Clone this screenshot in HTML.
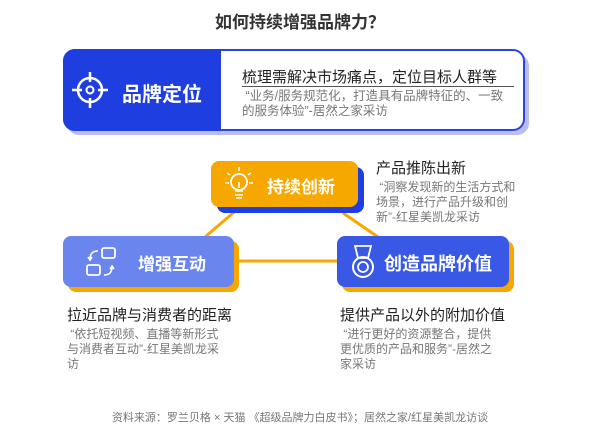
<!DOCTYPE html>
<html><head><meta charset="utf-8"><style>
body{margin:0;width:600px;height:430px;background:#fff;position:relative;overflow:hidden;font-family:"Liberation Sans","Noto Sans CJK SC",sans-serif;}
.a{position:absolute;white-space:nowrap;}
.q{color:#777;font-size:12px;line-height:15px;white-space:normal;}
.h{color:#222;font-size:15px;}
.box{position:absolute;border-radius:8px;color:#fff;font-weight:bold;font-size:17px;}
</style></head><body>
<div class="a" style="left:0;width:600px;top:8px;text-align:center;font-size:17px;font-weight:bold;color:#333;">如何持续增强品牌力？</div>

<div style="position:absolute;left:67px;top:54px;width:462px;height:81px;border-radius:12px;background:#b9bdf0;"></div>
<div style="position:absolute;left:63px;top:49px;width:458px;height:78px;border:2px solid #2b45e0;border-radius:12px;background:#fff;"></div>
<div style="position:absolute;left:63px;top:49px;width:158px;height:82px;border-radius:12px 0 0 12px;background:#1f3ee0;"></div>
<svg class="a" style="left:70px;top:70px" width="40" height="40" viewBox="0 0 40 40"><circle cx="20" cy="20" r="12" fill="none" stroke="#fff" stroke-width="2.5"/><circle cx="20" cy="20" r="3.5" fill="none" stroke="#fff" stroke-width="2"/><path d="M20 2v10M20 28v10M2 20h10M28 20h10" stroke="#fff" stroke-width="2.5"/></svg>
<div class="a" style="left:122px;top:78px;color:#fff;font-weight:bold;font-size:20px;">品牌定位</div>
<div class="a" style="left:242px;top:66px;font-size:15px;color:#222;">梳理需解决市场痛点，定位目标人群等</div>
<div style="position:absolute;left:242px;top:86px;width:272px;height:1px;background:#555;"></div>
<div class="a q" style="left:242px;top:89px;width:270px;font-size:12.5px;">&nbsp;“业务/服务规范化，打造具有品牌特征的、一致的服务体验”-居然之家采访</div>

<svg class="a" style="left:0;top:0" width="600" height="430"><path d="M205 237L240 207M234 261H337M343 213L378 237" stroke="#f6a800" stroke-width="3" fill="none"/></svg>

<div class="box" style="left:217px;top:167px;width:147px;height:46px;background:#1f3ee0;"></div>
<div class="box" style="left:211px;top:161px;width:147px;height:46px;background:#f6a800;"></div>
<svg class="a" style="left:223px;top:165px" width="32" height="38" viewBox="0 0 32 38"><circle cx="16" cy="17" r="8" fill="none" stroke="#fff" stroke-width="1.8"/><path d="M12 26h8M12 30h8M13 33h6M16 2v4M4 8l3 2M28 8l-3 2M2 18h4M26 18h4M16 17v6" stroke="#fff" stroke-width="1.6" fill="none"/></svg>
<div class="a" style="left:267px;top:173px;color:#fff;font-weight:bold;font-size:17px;">持续创新</div>

<div class="box" style="left:68px;top:241px;width:171px;height:51px;background:#f6a800;"></div>
<div class="box" style="left:63px;top:236px;width:171px;height:51px;background:#6b85ee;"></div>
<svg class="a" style="left:84px;top:245px" width="34" height="34" viewBox="0 0 34 34"><rect x="18" y="3" width="13" height="10" rx="2" fill="none" stroke="#fff" stroke-width="1.8"/><rect x="3" y="20" width="13" height="10" rx="2" fill="none" stroke="#fff" stroke-width="1.8"/><path d="M14 6C8 6 6 9 6 15M4 12l2 3 2-3M20 30c6 0 8-3 8-9M26 24l2-3 2 3" stroke="#fff" stroke-width="1.6" fill="none"/></svg>
<div class="a" style="left:138px;top:250px;color:#fff;font-weight:bold;font-size:17px;">增强互动</div>

<div class="box" style="left:342px;top:241px;width:172px;height:51px;background:#f6a800;"></div>
<div class="box" style="left:337px;top:236px;width:172px;height:51px;background:#3a58e6;"></div>
<svg class="a" style="left:348px;top:244px" width="30" height="36" viewBox="0 0 30 36"><path d="M7 2h16l-3 12H10z" fill="none" stroke="#fff" stroke-width="1.8"/><circle cx="15" cy="23" r="10" fill="none" stroke="#fff" stroke-width="2"/><circle cx="15" cy="23" r="5" fill="none" stroke="#fff" stroke-width="1.8"/></svg>
<div class="a" style="left:384px;top:250px;color:#fff;font-weight:bold;font-size:18px;">创造品牌价值</div>

<div class="a h" style="left:376px;top:157px;">产品推陈出新</div>
<div class="a q" style="left:376px;top:180px;width:150px;">&nbsp;“洞察发现新的生活方式和场景，进行产品升级和创新”-红星美凯龙采访</div>

<div class="a h" style="left:67px;top:304px;">拉近品牌与消费者的距离</div>
<div class="a q" style="left:67px;top:327px;width:158px;">&nbsp;“依托短视频、直播等新形式与消费者互动”-红星美凯龙采访</div>
<div class="a h" style="left:340px;top:304px;">提供产品以外的附加价值</div>
<div class="a q" style="left:340px;top:327px;width:160px;">&nbsp;“进行更好的资源整合，提供更优质的产品和服务”-居然之家采访</div>

<div class="a" style="left:0;width:600px;top:409px;text-align:center;font-size:11px;color:#777;">资料来源：罗兰贝格 × 天猫 《超级品牌力白皮书》；居然之家/红星美凯龙访谈</div>
</body></html>
